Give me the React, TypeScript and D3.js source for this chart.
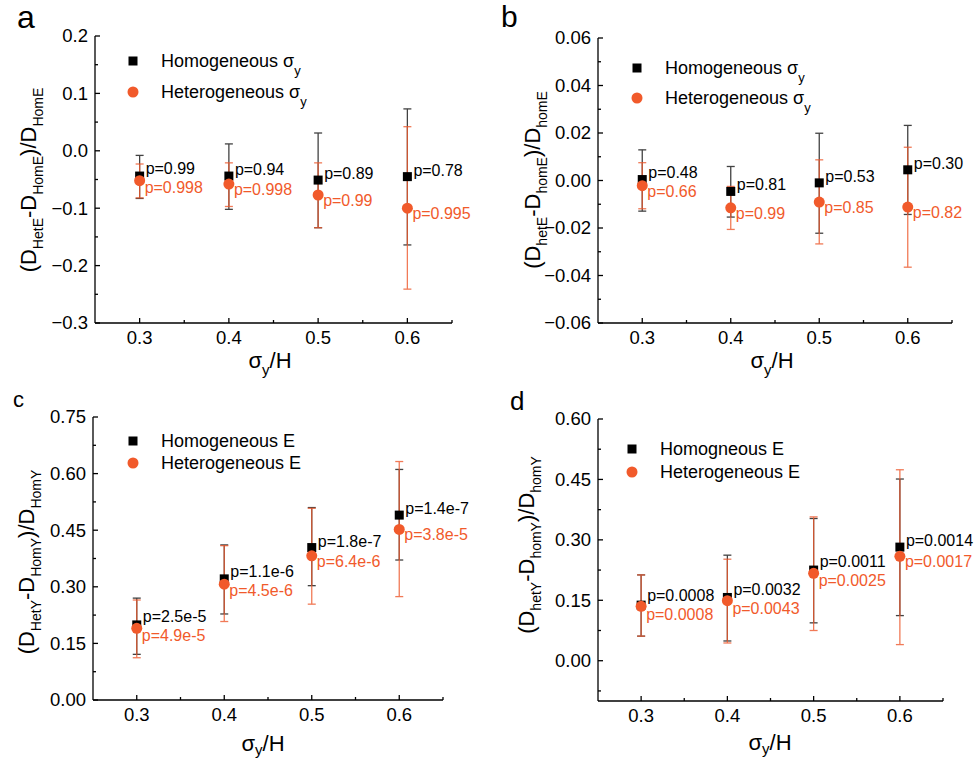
import React from 'react';
import * as d3 from 'd3';

// shared x categories (sigma_y / H)
const xValues = [0.3, 0.4, 0.5, 0.6];
const xTickValues = [0.3, 0.4, 0.5, 0.6];

// panel a
const aHomMean = [-0.044, -0.044, -0.051, -0.045];
const aHomLow = [-0.083, -0.102, -0.134, -0.164];
const aHomHigh = [-0.008, 0.012, 0.031, 0.073];
const aHetMean = [-0.052, -0.058, -0.077, -0.1];
const aHetLow = [-0.082, -0.097, -0.134, -0.241];
const aHetHigh = [-0.023, -0.021, -0.021, 0.042];
const aHomP = ['p=0.99', 'p=0.94', 'p=0.89', 'p=0.78'];
const aHetP = ['p=0.998', 'p=0.998', 'p=0.99', 'p=0.995'];
const aYTicks = [-0.3, -0.2, -0.1, 0.0, 0.1, 0.2];

// panel b
const bHomMean = [0.0004, -0.0046, -0.001, 0.0045];
const bHomLow = [-0.0129, -0.0154, -0.0222, -0.0143];
const bHomHigh = [0.0129, 0.0059, 0.0199, 0.0232];
const bHetMean = [-0.0022, -0.0115, -0.0091, -0.0112];
const bHetLow = [-0.0119, -0.0206, -0.0267, -0.0365];
const bHetHigh = [0.0075, -0.0025, 0.0087, 0.014];
const bHomP = ['p=0.48', 'p=0.81', 'p=0.53', 'p=0.30'];
const bHetP = ['p=0.66', 'p=0.99', 'p=0.85', 'p=0.82'];
const bYTicks = [-0.06, -0.04, -0.02, 0.0, 0.02, 0.04, 0.06];

// panel c
const cHomMean = [0.199, 0.321, 0.404, 0.49];
const cHomLow = [0.121, 0.228, 0.303, 0.371];
const cHomHigh = [0.27, 0.411, 0.51, 0.611];
const cHetMean = [0.19, 0.307, 0.382, 0.452];
const cHetLow = [0.112, 0.208, 0.254, 0.274];
const cHetHigh = [0.265, 0.409, 0.508, 0.632];
const cHomP = ['p=2.5e-5', 'p=1.1e-6', 'p=1.8e-7', 'p=1.4e-7'];
const cHetP = ['p=4.9e-5', 'p=4.5e-6', 'p=6.4e-6', 'p=3.8e-5'];
const cYTicks = [0.0, 0.15, 0.3, 0.45, 0.6, 0.75];

// panel d
const dHomMean = [0.138, 0.157, 0.225, 0.282];
const dHomLow = [0.061, 0.049, 0.094, 0.112];
const dHomHigh = [0.213, 0.262, 0.353, 0.451];
const dHetMean = [0.135, 0.149, 0.217, 0.259];
const dHetLow = [0.061, 0.044, 0.075, 0.04];
const dHetHigh = [0.213, 0.252, 0.357, 0.474];
const dHomP = ['p=0.0008', 'p=0.0032', 'p=0.0011', 'p=0.0014'];
const dHetP = ['p=0.0008', 'p=0.0043', 'p=0.0025', 'p=0.0017'];
const dYTicks = [0.0, 0.15, 0.3, 0.45, 0.6];

const ORANGE = '#F15A2B';
const FONT = '"Liberation Sans", Arial, Helvetica, sans-serif';

type Series = { mean: number[]; low: number[]; high: number[]; p: string[] };

type PanelCfg = {
    letter: string;
    letterX: number;
    letterY: number;
    letterSize: number;
    x0: number;
    x1: number;
    yTop: number;
    yBot: number;
    yDomain: [number, number];
    yTicks: number[];
    yFormat: string;
    hom: Series;
    het: Series;
    homLegend: string;
    hetLegend: string;
    legendSigma: boolean;
    legendX: number;
    legendY: number;
    legendGap: number;
    yTitle: string[]; // main, sub, main, sub, main, sub
    yTitleX: number;
    yTitleY: number;
    xTitleX: number;
    xTitleY: number;
    xSubDy: number;
};

const mk = (mean: number[], low: number[], high: number[], p: string[]): Series => ({ mean, low, high, p });

const panels: PanelCfg[] = [
    {
        letter: 'a', letterX: 17, letterY: 28, letterSize: 32,
        x0: 95, x1: 452, yTop: 36, yBot: 323, yDomain: [-0.3, 0.2], yTicks: aYTicks, yFormat: '.1f',
        hom: mk(aHomMean, aHomLow, aHomHigh, aHomP), het: mk(aHetMean, aHetLow, aHetHigh, aHetP),
        homLegend: 'Homogeneous ', hetLegend: 'Heterogeneous ', legendSigma: true,
        legendX: 133, legendY: 61, legendGap: 31,
        yTitle: ['(D', 'HetE', '-D', 'HomE', ')/D', 'HomE'], yTitleX: 36, yTitleY: 180,
        xTitleX: 270, xTitleY: 368, xSubDy: 7,
    },
    {
        letter: 'b', letterX: 501, letterY: 27, letterSize: 30,
        x0: 598, x1: 952, yTop: 38, yBot: 323, yDomain: [-0.06, 0.06], yTicks: bYTicks, yFormat: '.2f',
        hom: mk(bHomMean, bHomLow, bHomHigh, bHomP), het: mk(bHetMean, bHetLow, bHetHigh, bHetP),
        homLegend: 'Homogeneous ', hetLegend: 'Heterogeneous ', legendSigma: true,
        legendX: 637, legendY: 68, legendGap: 30,
        yTitle: ['(D', 'hetE', '-D', 'homE', ')/D', 'homE'], yTitleX: 540, yTitleY: 180,
        xTitleX: 772, xTitleY: 368, xSubDy: 7,
    },
    {
        letter: 'c', letterX: 13, letterY: 407, letterSize: 22,
        x0: 93, x1: 443, yTop: 417, yBot: 700, yDomain: [0, 0.75], yTicks: cYTicks, yFormat: '.2f',
        hom: mk(cHomMean, cHomLow, cHomHigh, cHomP), het: mk(cHetMean, cHetLow, cHetHigh, cHetP),
        homLegend: 'Homogeneous E', hetLegend: 'Heterogeneous E', legendSigma: false,
        legendX: 133, legendY: 441, legendGap: 22,
        yTitle: ['(D', 'HetY', '-D', 'HomY', ')/D', 'HomY'], yTitleX: 34, yTitleY: 562,
        xTitleX: 263, xTitleY: 751, xSubDy: 4,
    },
    {
        letter: 'd', letterX: 510, letterY: 410, letterSize: 26,
        x0: 598, x1: 943, yTop: 419, yBot: 701, yDomain: [-0.1, 0.6], yTicks: dYTicks, yFormat: '.2f',
        hom: mk(dHomMean, dHomLow, dHomHigh, dHomP), het: mk(dHetMean, dHetLow, dHetHigh, dHetP),
        homLegend: 'Homogneous E', hetLegend: 'Heterogeneous E', legendSigma: false,
        legendX: 632, legendY: 449, legendGap: 23,
        yTitle: ['(D', 'hetY', '-D', 'homY', ')/D', 'homY'], yTitleX: 534, yTitleY: 545,
        xTitleX: 770, xTitleY: 750, xSubDy: 4,
    },
];

function minorTicks(majors: number[], domain: [number, number]) {
    const step = majors[1] - majors[0];
    const out: number[] = [];
    for (let k = -3; k < majors.length + 3; k++) {
        const v = majors[0] + (k + 0.5) * step;
        if (v >= domain[0] - 1e-9 && v <= domain[1] + 1e-9) out.push(v);
    }
    return out;
}

function Panel({ cfg }: { cfg: PanelCfg }) {
    const xScale = d3.scaleLinear().domain([0.25, 0.65]).range([cfg.x0, cfg.x1]);
    const yScale = d3.scaleLinear().domain(cfg.yDomain).range([cfg.yBot, cfg.yTop]);
    const fmt = d3.format(cfg.yFormat);
    const yMinor = minorTicks(cfg.yTicks, cfg.yDomain);
    const xMinor = minorTicks(xTickValues, [0.25, 0.65]).filter((v) => v > 0.26);

    // p-value label baselines: black just above square centre, orange below circle
    const labelYs = xValues.map((_, i) => {
        let hy = yScale(cfg.hom.mean[i]) - 1;
        let oy = yScale(cfg.het.mean[i]) + 11;
        if (oy - hy < 19) {
            const mid = (oy + hy) / 2;
            hy = mid - 9.5;
            oy = mid + 9.5;
        }
        return [hy, oy];
    });

    const errBar = (x: number, lo: number, hi: number, color: string, op: number, key: string) => (
        <g key={key} stroke={color} strokeWidth={1.3} opacity={op}>
            <line x1={x} x2={x} y1={yScale(lo)} y2={yScale(hi)} />
            <line x1={x - 4} x2={x + 4} y1={yScale(lo)} y2={yScale(lo)} />
            <line x1={x - 4} x2={x + 4} y1={yScale(hi)} y2={yScale(hi)} />
        </g>
    );

    const t = cfg.yTitle;
    return (
        <g fontFamily={FONT}>
            <text x={cfg.letterX} y={cfg.letterY} fontSize={cfg.letterSize}>
                {cfg.letter}
            </text>

            {/* axes */}
            <g stroke="#000" strokeWidth={1.3}>
                <line x1={cfg.x0} x2={cfg.x0} y1={cfg.yTop} y2={cfg.yBot} />
                <line x1={cfg.x0} x2={cfg.x1} y1={cfg.yBot} y2={cfg.yBot} />
                {cfg.yTicks.map((v) => (
                    <line key={'ym' + v} x1={cfg.x0} x2={cfg.x0 + 5} y1={yScale(v)} y2={yScale(v)} />
                ))}
                {yMinor.map((v) => (
                    <line key={'yn' + v} x1={cfg.x0} x2={cfg.x0 + 3} y1={yScale(v)} y2={yScale(v)} />
                ))}
                {xTickValues.map((v) => (
                    <line key={'xm' + v} x1={xScale(v)} x2={xScale(v)} y1={cfg.yBot} y2={cfg.yBot - 5} />
                ))}
                {xMinor.map((v) => (
                    <line key={'xn' + v} x1={xScale(v)} x2={xScale(v)} y1={cfg.yBot} y2={cfg.yBot - 3} />
                ))}
            </g>
            {cfg.yTicks.map((v) => (
                <text key={'yl' + v} x={cfg.x0 - 7} y={yScale(v)} dy="0.35em" textAnchor="end" fontSize={18.5}>
                    {fmt(v)}
                </text>
            ))}
            {xTickValues.map((v) => (
                <text key={'xl' + v} x={xScale(v)} y={cfg.yBot + 21} textAnchor="middle" fontSize={18.5}>
                    {d3.format('.1f')(v)}
                </text>
            ))}

            {/* axis titles */}
            <text x={cfg.xTitleX} y={cfg.xTitleY} textAnchor="middle" fontSize={22}>
                σ
                <tspan fontSize={15} dy={cfg.xSubDy}>
                    y
                </tspan>
                <tspan dy={-cfg.xSubDy}>/H</tspan>
            </text>
            <text
                transform={`translate(${cfg.yTitleX},${cfg.yTitleY}) rotate(-90)`}
                textAnchor="middle"
                fontSize={22}
            >
                {t[0]}
                <tspan fontSize={14} dy={7}>{t[1]}</tspan>
                <tspan dy={-7}>{t[2]}</tspan>
                <tspan fontSize={14} dy={7}>{t[3]}</tspan>
                <tspan dy={-7}>{t[4]}</tspan>
                <tspan fontSize={14} dy={7}>{t[5]}</tspan>
            </text>

            {/* legend */}
            <rect x={cfg.legendX - 4.5} y={cfg.legendY - 4.5} width={9} height={9} fill="#000" />
            <circle cx={cfg.legendX} cy={cfg.legendY + cfg.legendGap} r={5.5} fill={ORANGE} />
            {[cfg.homLegend, cfg.hetLegend].map((s, i) => (
                <text key={s} x={cfg.legendX + 28} y={cfg.legendY + i * cfg.legendGap} dy="0.35em" fontSize={18}>
                    {s}
                    {cfg.legendSigma ? (
                        <>
                            σ
                            <tspan fontSize={13} dy={8}>
                                y
                            </tspan>
                        </>
                    ) : null}
                </text>
            ))}

            {/* error bars */}
            {xValues.map((xv, i) => errBar(xScale(xv), cfg.hom.low[i], cfg.hom.high[i], '#222', 0.85, 'hb' + i))}
            {xValues.map((xv, i) => errBar(xScale(xv), cfg.het.low[i], cfg.het.high[i], '#EE5A2E', 0.8, 'ob' + i))}

            {/* markers */}
            {xValues.map((xv, i) => (
                <rect
                    key={'sq' + i}
                    x={xScale(xv) - 4.5}
                    y={yScale(cfg.hom.mean[i]) - 4.5}
                    width={9}
                    height={9}
                    fill="#000"
                />
            ))}
            {xValues.map((xv, i) => (
                <circle key={'ci' + i} cx={xScale(xv)} cy={yScale(cfg.het.mean[i])} r={5.5} fill={ORANGE} />
            ))}

            {/* p-values */}
            {xValues.map((xv, i) => (
                <g key={'p' + i} fontSize={16}>
                    <text x={xScale(xv) + 6} y={labelYs[i][0]} fill="#000">
                        {cfg.hom.p[i]}
                    </text>
                    <text x={xScale(xv) + 5} y={labelYs[i][1]} fill={ORANGE}>
                        {cfg.het.p[i]}
                    </text>
                </g>
            ))}
        </g>
    );
}

export default function App() {
    return (
        <svg
            width={976}
            height={758}
            viewBox="0 0 976 758"
            style={{ position: 'absolute', left: 0, top: 0, background: '#fff' }}
        >
            <rect width={976} height={758} fill="#fff" />
            {panels.map((p) => (
                <Panel key={p.letter} cfg={p} />
            ))}
        </svg>
    );
}
